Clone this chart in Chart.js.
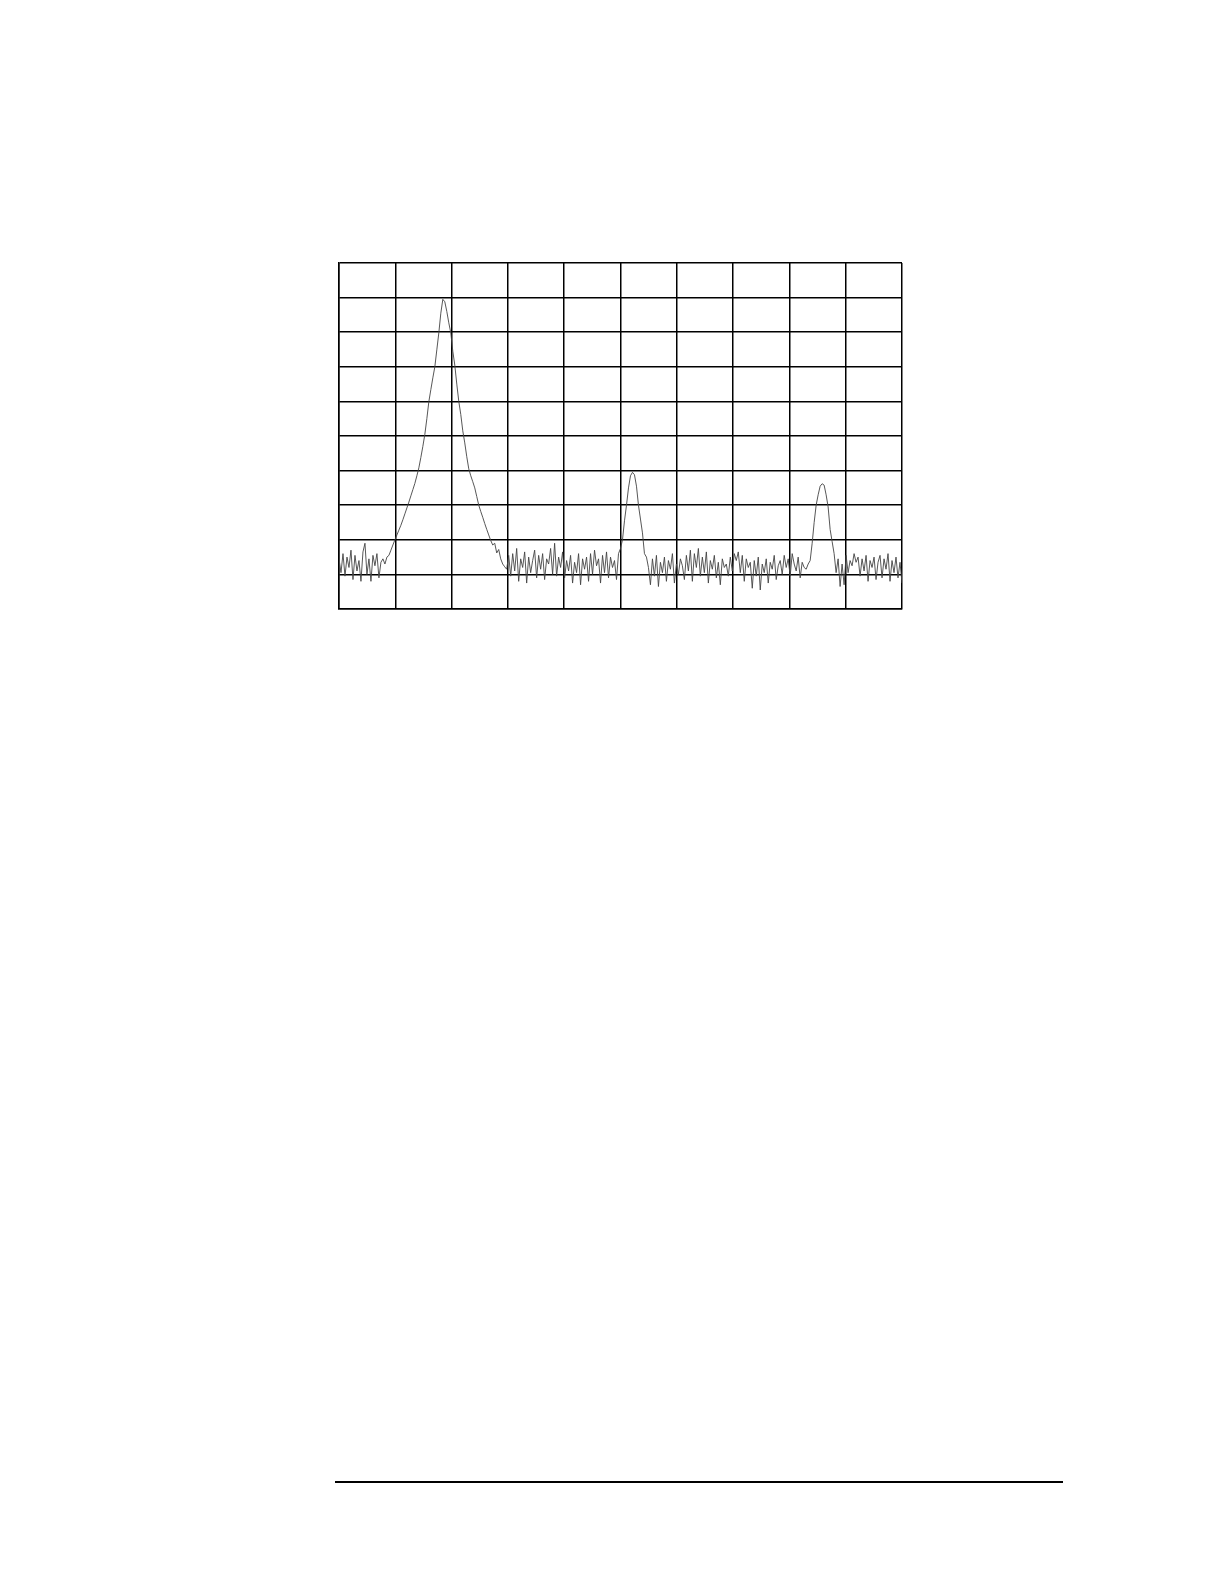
<!DOCTYPE html>
<html>
<head>
<meta charset="utf-8">
<script src="https://cdn.jsdelivr.net/npm/chart.js@4.4.0/dist/chart.umd.min.js"></script>
<style>
  body { margin: 0; background: #fff; width: 1224px; height: 1582px; position: relative; overflow: hidden; }
  #plot { position: absolute; left: 329px; top: 253px; width: 583px; height: 366px; }
  #rule { position: absolute; left: 335px; top: 1481px; width: 728px; height: 2px; background: #000; }
</style>
</head>
<body>
<div id="plot"><canvas id="canvas"></canvas></div>
<div id="rule"></div>

<script>
// trace, in grid divisions (0..10 both ways), left to right
var noiseLeft = [1.45, 1.05, 1.60, 0.95, 1.50, 1.20, 1.70, 0.85, 1.55, 1.10, 1.40, 0.80, 1.65, 1.90, 1.00,
                 1.45, 0.80, 1.55, 1.25, 1.60, 0.90, 1.35, 1.45, 1.30, 1.50, 1.55, 1.70, 1.85, 2.00];
var peakA = [2.14, 2.28, 2.42, 2.58, 2.75, 2.92, 3.09, 3.27, 3.45, 3.63, 3.85, 4.08, 4.38, 4.70, 5.05,
             5.50, 5.99, 6.34, 6.68, 7.00, 7.49, 7.98, 8.55, 8.95, 8.88, 8.60, 8.27, 7.98, 7.45, 7.05,
             6.50, 6.00, 5.62, 5.15, 4.80, 4.40, 4.05, 3.85, 3.68, 3.50, 3.25, 3.00, 2.82, 2.65, 2.47,
             2.30, 2.14, 1.98, 1.85, 1.90, 1.62, 1.72, 1.45, 1.30, 1.22, 1.15];
var noiseMidA = [1.55, 0.95, 1.60, 1.10, 1.75, 0.80, 1.45, 1.20, 1.65, 0.75, 1.50, 1.05, 1.40, 1.70, 0.90,
                 1.55, 1.15, 1.60, 0.85, 1.45, 1.30, 1.75, 1.00, 1.90, 0.95, 1.50, 1.20, 1.65, 0.90, 1.40,
                 1.10, 1.55, 0.75, 1.35, 1.05, 1.60, 0.70, 1.45, 1.15, 1.50, 0.80, 1.60, 1.00, 1.70, 1.25,
                 1.45, 0.75, 1.55, 1.05, 1.65, 0.90, 1.50, 1.20, 1.40, 0.85, 1.60];
var peakB = [1.75, 2.00, 2.55, 3.00, 3.50, 3.85, 3.95, 3.88, 3.55, 3.00, 2.60, 2.20, 1.60, 1.50];
var noiseMidB = [1.20, 0.70, 1.45, 0.95, 1.55, 0.65, 1.35, 1.05, 1.50, 0.80, 1.40, 1.15, 1.60, 0.75, 1.30,
                 1.00, 1.45, 1.25, 0.85, 1.55, 1.10, 1.70, 0.80, 1.60, 1.20, 1.75, 0.95, 1.50, 1.05, 1.65,
                 0.75, 1.40, 1.15, 1.55, 0.90, 1.35, 0.70, 1.45, 1.20, 1.30, 0.95, 1.50, 1.10, 1.60, 1.40,
                 1.65, 1.05, 1.55, 0.80, 1.45, 1.20, 1.35, 0.60, 1.40, 0.95, 1.50, 0.55, 1.30, 1.05, 1.45,
                 0.75, 1.35, 1.15, 1.55, 0.85, 1.25, 1.40, 1.00, 1.55, 1.20, 1.45, 0.95, 1.60, 1.30, 1.10,
                 1.50, 0.90, 1.35, 1.20, 1.15, 1.30];
var peakC = [1.40, 1.90, 2.50, 3.00, 3.30, 3.55, 3.62, 3.58, 3.30, 2.95, 2.30, 1.95, 1.60, 1.05];
var noiseRight = [1.45, 0.65, 1.30, 0.70, 1.55, 1.05, 1.40, 1.25, 1.60, 1.35, 1.50, 0.95, 1.45, 1.10, 1.55,
                  0.80, 1.40, 1.20, 1.50, 0.85, 1.35, 1.55, 0.90, 1.45, 1.15, 1.60, 0.80, 1.40, 1.05, 1.50,
                  0.90, 1.35, 0.75];

var trace = [].concat(noiseLeft, peakA, noiseMidA, peakB, noiseMidB, peakC, noiseRight);
var points = trace.map(function(v, i) {
    return { x: i * 10 / (trace.length - 1), y: v };
});

var gridAxis = {
    type: 'linear',
    min: 0,
    max: 10,
    ticks: { display: false, stepSize: 1 },
    grid: { color: '#000', lineWidth: 1.5, drawTicks: false },
    border: { display: true, color: '#000', width: 1.5 }
};

var config = {
    type: 'line',
    data: {
        datasets: [{
            data: points,
            borderColor: '#444',
            borderWidth: 0.9,
            pointRadius: 0,
            tension: 0,
            fill: false
        }]
    },
    options: {
        responsive: true,
        maintainAspectRatio: false,
        animation: false,
        layout: { padding: 10 },
        plugins: { legend: { display: false }, tooltip: { enabled: false } },
        scales: { x: gridAxis, y: gridAxis }
    }
};

window.onload = function() {
    window.myTrace = new Chart(document.getElementById("canvas"), config);
};
</script>
</body>
</html>
